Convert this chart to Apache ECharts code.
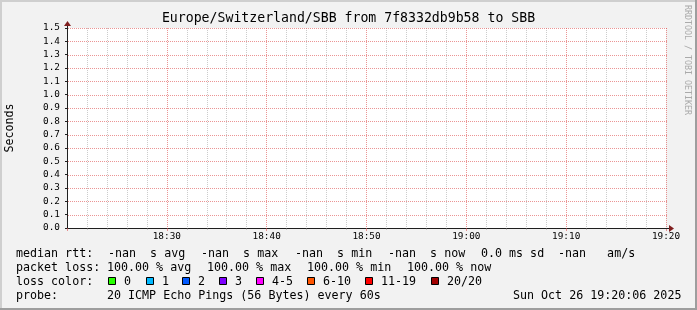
<!DOCTYPE html>
<html>
<head>
<meta charset="utf-8">
<script src="https://cdn.jsdelivr.net/npm/echarts@6/dist/echarts.min.js"></script>
<style>
html,body{margin:0;padding:0;background:#f2f2f2;}
#chart{width:697px;height:310px;}
</style>
</head>
<body>
<div id="chart"></div>
<script>
// ---------- data ----------
const titleText = 'Europe/Switzerland/SBB from 7f8332db9b58 to SBB';
const yAxisName = 'Seconds';
const timeTickLabels = ['18:20', '18:30', '18:40', '18:50', '19:00', '19:10', '19:20']; // minutes 0..60
const yTickLabels = ['0.0', '0.1', '0.2', '0.3', '0.4', '0.5', '0.6', '0.7', '0.8', '0.9', '1.0', '1.1', '1.2', '1.3', '1.4', '1.5'];
const medianRtt = []; // every sample is -nan in the reference: nothing is drawn
const medianLabel = 'median rtt:';
const medianStats = ['-nan  s avg', '-nan  s max', '-nan  s min', '-nan  s now', '0.0 ms sd', '-nan   am/s'];
const lossLabel = 'packet loss:';
const lossStats = ['100.00 % avg', '100.00 % max', '100.00 % min', '100.00 % now'];
const lossColorLabel = 'loss color:';
const lossLabels = ['0', '1', '2', '3', '4-5', '6-10', '11-19', '20/20'];
const lossColors = ['#26ff00', '#00b8ff', '#0059ff', '#7e00ff', '#ff00ff', '#ff5500', '#ff0000', '#a10000'];
const probeLabel = 'probe:';
const probeText = '20 ICMP Echo Pings (56 Bytes) every 60s';
const dateText = 'Sun Oct 26 19:20:06 2025';
const watermark = 'RRDTOOL / TOBI OETIKER';

// ---------- layout / style ----------
const MONO = "'DejaVu Sans Mono', monospace";
const GL = 67, GT = 28, GR = 666, GB = 228;
const W = 697, H = 310;
const legendFont = '11.66px ' + MONO;
const rowY = [254, 268, 282, 296];
const medianX = [108, 201, 295, 388, 481, 558];
const lossX = [107, 207, 307, 407];
const boxX = [108, 146, 182, 219, 256, 307, 365, 431];
const MGRID = 'rgba(222,79,79,0.6)';
const GRID = 'rgba(143,143,143,0.45)';

// dotted pattern (1 px on, 1 px off) for the horizontal major grid
const dotCanvas = document.createElement('canvas');
dotCanvas.width = 2; dotCanvas.height = 1;
(function () {
  const c = dotCanvas.getContext('2d');
  c.fillStyle = MGRID;
  c.fillRect(0, 0, 1, 1);
})();
const dotPattern = { image: dotCanvas, repeat: 'repeat' };

function txt(x, y, s, extra) {
  return Object.assign({
    type: 'text', x: x, y: y, silent: true,
    style: { text: s, font: legendFont, fill: '#000', align: 'left', verticalAlign: 'middle' }
  }, extra || {});
}

const graphic = [];
// 3D frame
graphic.push({ type: 'rect', shape: { x: 0, y: 0, width: W, height: 2 }, style: { fill: '#cfcfcf' }, silent: true });
graphic.push({ type: 'rect', shape: { x: 0, y: 0, width: 2, height: H }, style: { fill: '#cfcfcf' }, silent: true });
graphic.push({ type: 'rect', shape: { x: 0, y: H - 2, width: W, height: 2 }, style: { fill: '#9e9e9e' }, silent: true });
graphic.push({ type: 'rect', shape: { x: W - 2, y: 0, width: 2, height: H }, style: { fill: '#9e9e9e' }, silent: true });
// axis arrows
graphic.push({ type: 'line', shape: { x1: GL + 0.5, y1: GT, x2: GL + 0.5, y2: GT - 3 }, style: { stroke: '#1f1f1f', lineWidth: 1 }, z: 100, silent: true });
graphic.push({ type: 'polygon', shape: { points: [[GL + 0.5, GT - 7], [GL - 3, GT - 2], [GL + 4, GT - 2]] }, style: { fill: '#801f1f' }, z: 101, silent: true });
graphic.push({ type: 'line', shape: { x1: GR, y1: GB + 0.5, x2: GR + 3, y2: GB + 0.5 }, style: { stroke: '#1f1f1f', lineWidth: 1 }, z: 100, silent: true });
graphic.push({ type: 'polygon', shape: { points: [[GR + 8, GB + 0.5], [GR + 3, GB - 3], [GR + 3, GB + 4]] }, style: { fill: '#801f1f' }, z: 101, silent: true });
// y axis name
graphic.push(txt(10, (GT + GB) / 2, yAxisName, { rotation: Math.PI / 2, style: { text: yAxisName, font: legendFont, fill: '#000', align: 'center', verticalAlign: 'middle' } }));
// watermark
graphic.push(txt(687, 5, watermark, { rotation: -Math.PI / 2, style: { text: watermark, font: '8.3px ' + MONO, fill: '#aaaaaa', align: 'left', verticalAlign: 'middle' } }));
// legend row 1
graphic.push(txt(16, rowY[0], medianLabel));
medianStats.forEach((s, i) => graphic.push(txt(medianX[i], rowY[0], s)));
// legend row 2
graphic.push(txt(16, rowY[1], lossLabel));
lossStats.forEach((s, i) => graphic.push(txt(lossX[i], rowY[1], s)));
// legend row 3
graphic.push(txt(16, rowY[2], lossColorLabel));
lossLabels.forEach((s, i) => {
  graphic.push({ type: 'rect', shape: { x: boxX[i] + 0.5, y: rowY[2] - 4.5, width: 7, height: 7 },
    style: { fill: lossColors[i], stroke: '#000', lineWidth: 1 }, silent: true });
  graphic.push(txt(boxX[i] + 16, rowY[2], s));
});
// legend row 4
graphic.push(txt(16, rowY[3], probeLabel));
graphic.push(txt(107, rowY[3], probeText));
graphic.push(txt(513, rowY[3], dateText));

const chart = echarts.init(document.getElementById('chart'), null, { renderer: 'canvas' });
chart.setOption({
  backgroundColor: '#f2f2f2',
  animation: false,
  title: {
    text: titleText, left: 'center', top: 12, padding: 0,
    textStyle: { fontFamily: MONO, fontSize: 13.2, fontWeight: 'normal', color: '#000' }
  },
  grid: {
    left: GL, top: GT, right: W - GR, bottom: H - GB,
    show: true, backgroundColor: '#ffffff', borderWidth: 0,
    outerBoundsMode: 'none', containLabel: false
  },
  xAxis: {
    type: 'value', min: 0, max: 60, interval: 10,
    axisLine: { show: true, onZero: false, lineStyle: { color: '#1f1f1f', width: 1 } },
    axisTick: { show: true, length: 3, lineStyle: { color: MGRID } },
    minorTick: { show: true, splitNumber: 5, length: 2, lineStyle: { color: GRID } },
    splitLine: { show: true, lineStyle: { color: MGRID, width: 1, type: [1, 1] } },
    minorSplitLine: { show: true, lineStyle: { color: GRID, width: 1, type: [1, 1] } },
    axisLabel: {
      showMinLabel: false, showMaxLabel: true, margin: 4,
      fontFamily: MONO, fontSize: 9.4, color: '#000',
      formatter: v => timeTickLabels[Math.round(v / 10)]
    }
  },
  yAxis: {
    type: 'value', min: 0, max: 1.5, interval: 0.1,
    axisLine: { show: true, lineStyle: { color: '#1f1f1f', width: 1 } },
    axisTick: { show: true, length: 2, lineStyle: { color: '#1f1f1f' } },
    splitLine: { show: false },
    axisLabel: {
      margin: 7, fontFamily: MONO, fontSize: 9.4, color: '#000',
      formatter: v => yTickLabels[Math.round(v * 10)]
    }
  },
  series: [{
    // horizontal major grid, snapped to whole pixel rows like rrdtool does
    name: 'hgrid', type: 'custom', silent: true, z: 3, clip: false,
    data: yTickLabels.map(Number).filter(v => v > 0).map(v => [0, v]),
    renderItem: function (params, api) {
      const a = api.coord([0, api.value(1)]);
      const b = api.coord([60, api.value(1)]);
      const x0 = Math.round(a[0]) + 1;
      return {
        type: 'rect', silent: true,
        shape: { x: x0, y: Math.round(a[1]), width: Math.round(b[0]) - x0 + 1, height: 1 },
        style: { fill: dotPattern, stroke: null }
      };
    }
  }, {
    name: 'median rtt', type: 'line', showSymbol: false,
    data: medianRtt.map((v, i) => [i, v]),
    lineStyle: { color: '#26ff00', width: 1 }
  }],
  graphic: graphic
});
</script>
</body>
</html>
